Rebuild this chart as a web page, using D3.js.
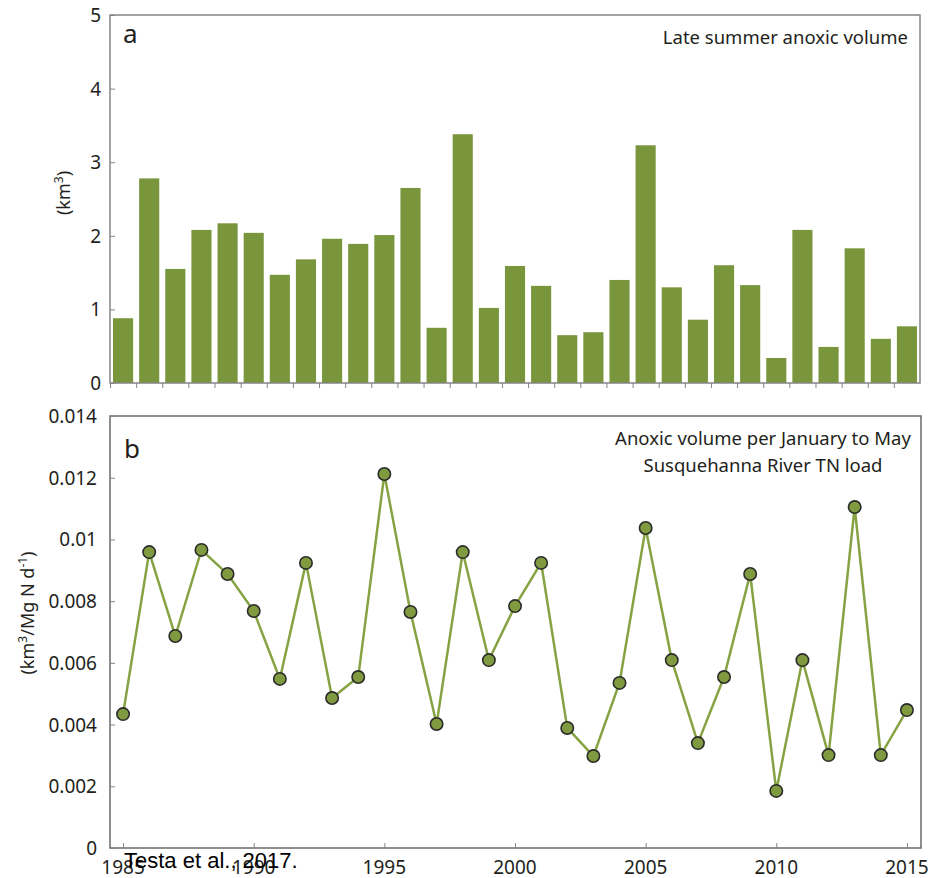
<!DOCTYPE html>
<html>
<head>
<meta charset="utf-8">
<script src="https://cdn.jsdelivr.net/npm/d3@7"></script>
<style>
  body { margin: 0; background: #fff; }
  text { font-family: "Noto Sans", sans-serif; fill: #231f20; }
</style>
</head>
<body>
<div class="chart"></div>
<script>
// data
const years = d3.range(1985, 2016);
const anoxicVolume = [0.88, 2.78, 1.55, 2.08, 2.17, 2.04, 1.47, 1.68, 1.96, 1.89, 2.01,
  2.65, 0.75, 3.38, 1.02, 1.59, 1.32, 0.65, 0.69, 1.40, 3.23, 1.30, 0.86, 1.60, 1.33,
  0.34, 2.08, 0.49, 1.83, 0.60, 0.77];
const volumePerLoad = [0.00434, 0.00959, 0.00687, 0.00966, 0.00888, 0.00768, 0.00548,
  0.00924, 0.00486, 0.00554, 0.01212, 0.00765, 0.00402, 0.00959, 0.00609, 0.00784,
  0.00924, 0.00389, 0.00298, 0.00535, 0.01037, 0.00609, 0.00340, 0.00554, 0.00888,
  0.00185, 0.00609, 0.00301, 0.01105, 0.00301, 0.00447];
const topTicks = [0, 1, 2, 3, 4, 5];
const bottomTicks = [0, 0.002, 0.004, 0.006, 0.008, 0.01, 0.012, 0.014];
const bottomTickLabels = ["0", "0.002", "0.004", "0.006", "0.008", "0.01", "0.012", "0.014"];
const yearTicks = [1985, 1990, 1995, 2000, 2005, 2010, 2015];

const W = 937, H = 878;
const left = 110, right = 920;
const green = "#7a963d", frame = "#858585";

const svg = d3.select(".chart").append("svg")
  .attr("width", W)
  .attr("height", H);

// shared x scale
const x = d3.scaleLinear().domain([1984.5, 2015.5]).range([left, right]);

//////////////////////////////////////////////////////////////// panel a
const yA = d3.scaleLinear().domain([0, 5]).range([383, 15]);
const band = x(1986) - x(1985);

svg.append("g").selectAll("rect").data(years)
  .enter().append("rect")
  .attr("x", (d) => x(d) - band * 0.385)
  .attr("width", band * 0.77)
  .attr("y", (d, i) => yA(anoxicVolume[i]))
  .attr("height", (d, i) => yA(0) - yA(anoxicVolume[i]))
  .style("fill", green);

// frame
svg.append("rect")
  .attr("x", left).attr("y", yA(5))
  .attr("width", right - left).attr("height", yA(0) - yA(5))
  .style("fill", "none").style("stroke", frame).style("stroke-width", 1.5);

const axA = svg.append("g")
  .attr("transform", "translate(" + left + ",0)")
  .call(d3.axisRight(yA).tickValues(topTicks).tickSize(5).tickFormat(""));
axA.select(".domain").remove();
axA.selectAll("line").style("stroke", frame);

svg.append("g").selectAll("text").data(topTicks)
  .enter().append("text")
  .attr("x", 101).attr("y", (d) => yA(d) + 7)
  .attr("text-anchor", "end")
  .style("font-size", "19px")
  .text((d) => d);

// ticks between bars
const axAx = svg.append("g")
  .attr("transform", "translate(0," + yA(0) + ")")
  .call(d3.axisBottom(x).tickValues(d3.range(1984.5, 2015.5, 1)).tickSize(5).tickFormat(""));
axAx.select(".domain").remove();
axAx.selectAll("line").style("stroke", frame);

const yLabA = svg.append("text")
  .attr("transform", "translate(70,193) rotate(-90)")
  .attr("text-anchor", "middle")
  .style("font-size", "18px");
yLabA.append("tspan").text("(km");
yLabA.append("tspan").attr("dy", -7).style("font-size", "12px").text("3");
yLabA.append("tspan").attr("dy", 7).text(")");

svg.append("text").attr("x", 123).attr("y", 43)
  .style("font-size", "26px").text("a");
svg.append("text").attr("x", 908).attr("y", 44)
  .attr("text-anchor", "end")
  .style("font-size", "18.5px")
  .text("Late summer anoxic volume");

//////////////////////////////////////////////////////////////// panel b
const yB = d3.scaleLinear().domain([0, 0.014]).range([848, 416]);

svg.append("rect")
  .attr("x", left).attr("y", yB(0.014))
  .attr("width", right - left + 1).attr("height", yB(0) - yB(0.014))
  .style("fill", "none").style("stroke", "#6a6a6a").style("stroke-width", 1.5);

const axB = svg.append("g")
  .attr("transform", "translate(" + left + ",0)")
  .call(d3.axisRight(yB).tickValues(bottomTicks).tickSize(5).tickFormat(""));
axB.select(".domain").remove();
axB.selectAll("line").style("stroke", frame);

svg.append("g").selectAll("text").data(bottomTicks)
  .enter().append("text")
  .attr("x", 97).attr("y", (d) => yB(d) + 7)
  .attr("text-anchor", "end")
  .style("font-size", "19px")
  .text((d, i) => bottomTickLabels[i]);

const axBx = svg.append("g")
  .attr("transform", "translate(0," + yB(0) + ")")
  .call(d3.axisTop(x).tickValues(yearTicks).tickSize(5).tickFormat(""));
axBx.select(".domain").remove();
axBx.selectAll("line").style("stroke", frame);

svg.append("g").selectAll("text").data(yearTicks)
  .enter().append("text")
  .attr("x", (d) => x(d)).attr("y", 874)
  .attr("text-anchor", "middle")
  .style("font-size", "19px")
  .text((d) => d);

const line = d3.line()
  .x((d, i) => x(years[i]))
  .y((d) => yB(d));

svg.append("path")
  .datum(volumePerLoad)
  .attr("d", line)
  .style("fill", "none")
  .style("stroke", "#86a343")
  .style("stroke-width", 2.5);

svg.append("g").selectAll("circle").data(volumePerLoad)
  .enter().append("circle")
  .attr("cx", (d, i) => x(years[i]))
  .attr("cy", (d) => yB(d))
  .attr("r", 6.2)
  .style("fill", "#7f9a3f")
  .style("stroke", "#2b2b2b")
  .style("stroke-width", 1.6);

const yLab = svg.append("text")
  .attr("transform", "translate(34,613) rotate(-90)")
  .attr("text-anchor", "middle")
  .style("font-size", "18px");
yLab.append("tspan").text("(km");
yLab.append("tspan").attr("dy", -7).style("font-size", "12px").text("3");
yLab.append("tspan").attr("dy", 7).text("/Mg N d");
yLab.append("tspan").attr("dy", -7).style("font-size", "12px").text("-1");
yLab.append("tspan").attr("dy", 7).text(")");

svg.append("text").attr("x", 124).attr("y", 458)
  .style("font-size", "26px").text("b");
svg.append("text").attr("x", 763).attr("y", 445)
  .attr("text-anchor", "middle")
  .style("font-size", "18.5px")
  .text("Anoxic volume per January to May");
svg.append("text").attr("x", 763).attr("y", 472)
  .attr("text-anchor", "middle")
  .style("font-size", "18.5px")
  .text("Susquehanna River TN load");

svg.append("text").attr("x", 124).attr("y", 868)
  .style("font-family", "'Liberation Sans', Arial, sans-serif")
  .style("font-size", "22px")
  .style("fill", "#000")
  .text("Testa et al., 2017.");
</script>
</body>
</html>
